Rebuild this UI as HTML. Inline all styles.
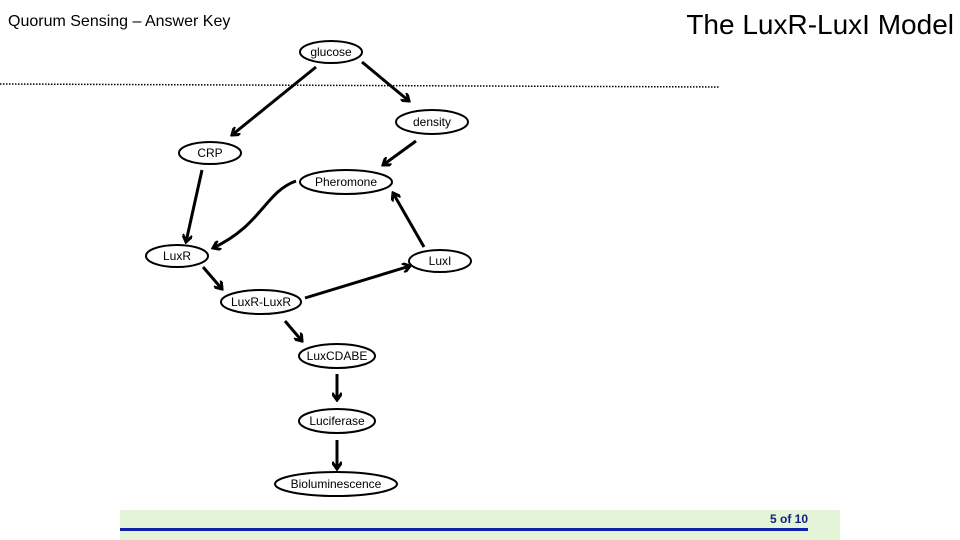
<!DOCTYPE html>
<html><head><meta charset="utf-8"><style>
html,body{margin:0;padding:0;background:#fff;}
body{width:960px;height:540px;position:relative;overflow:hidden;font-family:"Liberation Sans",sans-serif;}
</style></head><body>
<svg width="960" height="540" xmlns="http://www.w3.org/2000/svg" style="position:absolute;left:0;top:0">
<defs>
<marker id="a" markerWidth="10" markerHeight="10" refX="8" refY="5" orient="auto" markerUnits="userSpaceOnUse">
<polyline points="1,0 8,5 1,10" fill="none" stroke="#000" stroke-width="3"/>
</marker>
</defs>
<text x="8" y="26" font-size="16" font-family="Liberation Sans, sans-serif">Quorum Sensing – Answer Key</text>
<text x="954" y="34" font-size="28" text-anchor="end" font-family="Liberation Sans, sans-serif">The LuxR-LuxI Model</text>
<line x1="0" y1="84" x2="720" y2="87" stroke="#000" stroke-width="1.5" stroke-dasharray="1.5,1.5"/>
<rect x="120" y="510" width="720" height="30" fill="#e4f4d6"/>
<rect x="120" y="528" width="688" height="3" fill="#1020a8"/>
<text x="808" y="523" font-size="12" font-weight="bold" fill="#102080" text-anchor="end" font-family="Liberation Sans, sans-serif">5 of 10</text>
<g stroke="#000" stroke-width="3" fill="none" marker-end="url(#a)">
<line x1="316" y1="67" x2="232" y2="135"/>
<line x1="362" y1="62" x2="409" y2="101"/>
<line x1="416" y1="141" x2="383" y2="165"/>
<line x1="202" y1="170" x2="186" y2="242"/>
<path d="M296,181 C265,192 262,225 213,248"/>
<line x1="424" y1="247" x2="393" y2="193"/>
<line x1="203" y1="267" x2="222" y2="289"/>
<line x1="305" y1="298" x2="410" y2="266"/>
<line x1="285" y1="321" x2="302" y2="341"/>
<line x1="337" y1="374" x2="337" y2="400"/>
<line x1="337" y1="440" x2="337" y2="469"/>
</g>
<g fill="#fff" stroke="#000" stroke-width="2">
<ellipse cx="331" cy="52" rx="31" ry="11"/>
<ellipse cx="432" cy="122" rx="36" ry="12"/>
<ellipse cx="210" cy="153" rx="31" ry="11"/>
<ellipse cx="346" cy="182" rx="46" ry="12"/>
<ellipse cx="177" cy="256" rx="31" ry="11"/>
<ellipse cx="440" cy="261" rx="31" ry="11"/>
<ellipse cx="261" cy="302" rx="40" ry="12"/>
<ellipse cx="337" cy="356" rx="38" ry="12"/>
<ellipse cx="337" cy="421" rx="38" ry="12"/>
<ellipse cx="336" cy="484" rx="61" ry="12"/>
</g>
<g font-size="12" text-anchor="middle" font-family="Liberation Sans, sans-serif">
<text x="331" y="56">glucose</text>
<text x="432" y="126">density</text>
<text x="210" y="157">CRP</text>
<text x="346" y="186">Pheromone</text>
<text x="177" y="260">LuxR</text>
<text x="440" y="265">LuxI</text>
<text x="261" y="306">LuxR-LuxR</text>
<text x="337" y="360">LuxCDABE</text>
<text x="337" y="425">Luciferase</text>
<text x="336" y="488">Bioluminescence</text>
</g>
</svg>
</body></html>
